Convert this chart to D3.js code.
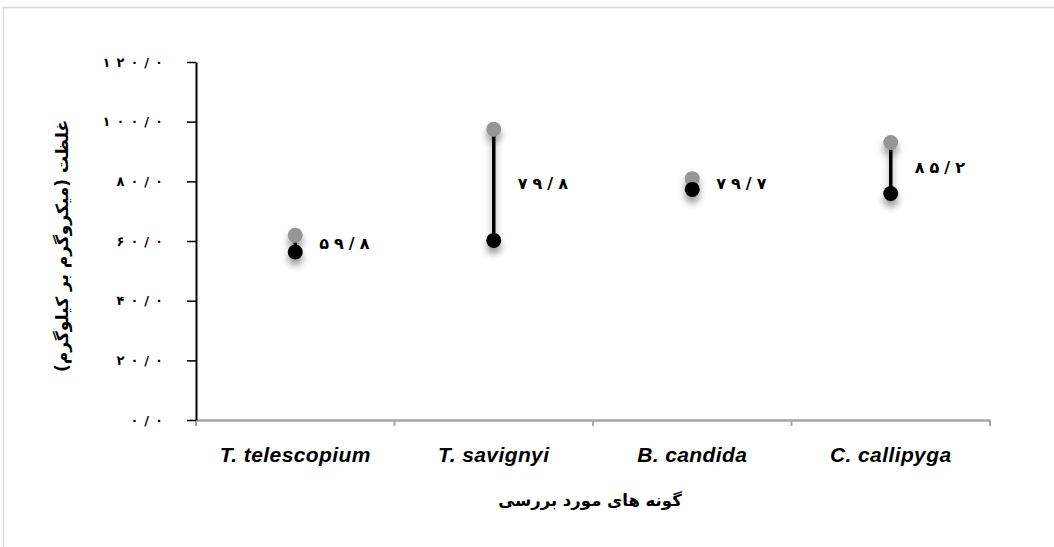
<!DOCTYPE html>
<html>
<head>
<meta charset="utf-8">
<script src="https://cdn.jsdelivr.net/npm/d3@7"></script>
<style>
  html, body { margin: 0; padding: 0; background: #fff; }
  svg { display: block; }
</style>
</head>
<body>
<svg id="chart" width="1054" height="547"></svg>
<script>
// ---- data ----
const categories = ["T. telescopium", "T. savignyi", "B. candida", "C. callipyga"];
const highValues = [61.9, 97.5, 80.9, 93.0];   // grey markers
const lowValues  = [56.3, 60.2, 77.3, 75.9];   // black markers
const labelValues = [59.8, 79.8, 79.7, 85.2];
const labelTexts  = ["۵۹/۸", "۷۹/۸", "۷۹/۷", "۸۵/۲"];
const yTickValues = [0, 20, 40, 60, 80, 100, 120];
const yTickLabels = ["۰/۰", "۲۰/۰", "۴۰/۰", "۶۰/۰", "۸۰/۰", "۱۰۰/۰", "۱۲۰/۰"];
const yTitle = "غلظت (میکروگرم بر کیلوگرم)";
const xTitle = "گونه های مورد بررسی";

// ---- layout ----
const svg = d3.select("#chart");
const persianFont = "'DejaVu Sans', 'Noto Sans', sans-serif";

function spaced(sel, str, gap) {
  sel.text(null);
  Array.from(str).forEach((ch, k) => {
    sel.append("tspan").attr("dx", k === 0 ? 0 : gap).text(ch);
  });
}

svg.append("rect")
  .attr("x", 3.5).attr("y", 7.5)
  .attr("width", 1070).attr("height", 560)
  .attr("fill", "#fff")
  .attr("stroke", "#d9d9d9").attr("stroke-width", 1.5);

const x = d3.scaleBand().domain(categories).range([196, 990]).padding(0);
const y = d3.scaleLinear().domain([0, 120]).range([420, 62]);

const defs = svg.append("defs");
const f = defs.append("filter").attr("id", "shadow")
  .attr("x", "-100%").attr("y", "-100%").attr("width", "300%").attr("height", "300%");
f.append("feDropShadow")
  .attr("dx", 0).attr("dy", 6).attr("stdDeviation", 3.5)
  .attr("flood-color", "#000").attr("flood-opacity", 0.4);

// x axis (grey)
const xAxis = d3.axisBottom(x).tickSize(0).tickFormat("");
const gx = svg.append("g").attr("transform", "translate(0,420)").call(xAxis);
gx.select(".domain").attr("stroke", "#a6a6a6").attr("stroke-width", 2.5);
const boundaries = [x.range()[0]].concat(categories.map(c => x(c) + x.bandwidth()));
gx.selectAll("line.bnd").data(boundaries).enter().append("line")
  .attr("class", "bnd")
  .attr("x1", d => d).attr("x2", d => d)
  .attr("y1", 0).attr("y2", 6)
  .attr("stroke", "#a6a6a6").attr("stroke-width", 2);

// category labels
svg.append("g").selectAll("text").data(categories).enter().append("text")
  .attr("x", d => x(d) + x.bandwidth() / 2)
  .attr("y", 462)
  .attr("text-anchor", "middle")
  .attr("font-family", "'Liberation Sans', Arial, sans-serif")
  .attr("font-weight", "bold")
  .attr("font-style", "italic")
  .attr("font-size", 21)
  .attr("letter-spacing", 0.4)
  .attr("fill", "#000")
  .text(d => d);

// y axis
const yAxis = d3.axisLeft(y).tickValues(yTickValues)
  .tickSize(9).tickSizeOuter(0)
  .tickFormat((d, i) => yTickLabels[i]);
const gy = svg.append("g").attr("transform", "translate(196,0)").call(yAxis);
gy.select(".domain").attr("stroke", "#000").attr("stroke-width", 2);
gy.selectAll(".tick line").attr("stroke", "#000").attr("stroke-width", 1.5);
gy.selectAll(".tick text")
  .attr("x", -33)
  .attr("font-family", persianFont)
  .attr("font-weight", "bold")
  .attr("font-size", 13)
  .attr("fill", "#000")
  .each(function(d, i) { spaced(d3.select(this), yTickLabels[i], 6); });

// marks
const marks = svg.append("g").attr("filter", "url(#shadow)");
const idx = categories.map((c, i) => i);
marks.selectAll("line.hl").data(idx).enter().append("line")
  .attr("class", "hl")
  .attr("x1", i => x(categories[i]) + x.bandwidth() / 2)
  .attr("x2", i => x(categories[i]) + x.bandwidth() / 2)
  .attr("y1", i => y(highValues[i]))
  .attr("y2", i => y(lowValues[i]))
  .attr("stroke", "#000").attr("stroke-width", 3.5);
marks.selectAll("circle.hi").data(idx).enter().append("circle")
  .attr("class", "hi")
  .attr("cx", i => x(categories[i]) + x.bandwidth() / 2)
  .attr("cy", i => y(highValues[i]))
  .attr("r", 7.5)
  .attr("fill", "#969696");
marks.selectAll("circle.lo").data(idx).enter().append("circle")
  .attr("class", "lo")
  .attr("cx", i => x(categories[i]) + x.bandwidth() / 2)
  .attr("cy", i => y(lowValues[i]))
  .attr("r", 7.5)
  .attr("fill", "#000");

// data labels
svg.append("g").selectAll("text").data(idx).enter().append("text")
  .attr("x", i => x(categories[i]) + x.bandwidth() / 2 + 24)
  .attr("y", i => y(labelValues[i]) + 7)
  .attr("text-anchor", "start")
  .attr("font-family", persianFont)
  .attr("font-weight", "bold")
  .attr("font-size", 16)
  .attr("fill", "#000")
  .each(function(i) { spaced(d3.select(this), labelTexts[i], 5); });

// axis titles
svg.append("text")
  .attr("transform", "translate(68,246) rotate(-90)")
  .attr("text-anchor", "middle")
  .attr("direction", "rtl")
  .attr("font-family", persianFont)
  .attr("font-weight", "bold")
  .attr("font-size", 17)
  .attr("fill", "#000")
  .text(yTitle);

svg.append("text")
  .attr("x", 590).attr("y", 506)
  .attr("text-anchor", "middle")
  .attr("direction", "rtl")
  .attr("font-family", persianFont)
  .attr("font-weight", "bold")
  .attr("font-size", 16.5)
  .attr("fill", "#000")
  .text(xTitle);
</script>
</body>
</html>
